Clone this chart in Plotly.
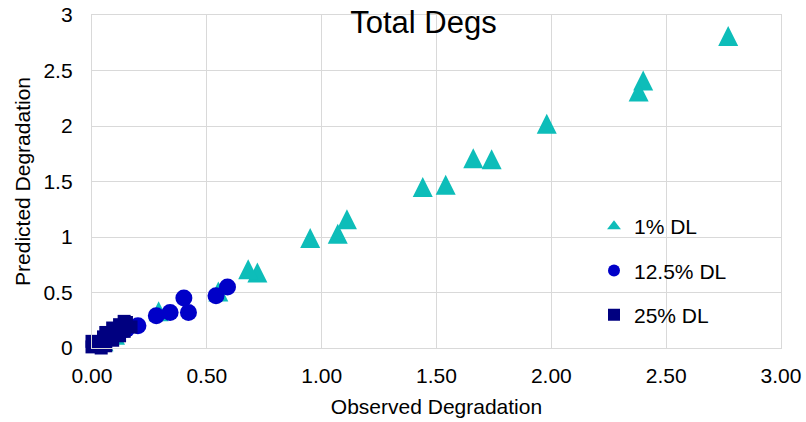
import plotly.graph_objects as go

# Observed vs predicted degradation, one series per detection-limit setting
dl1_obs = [2.77, 2.40, 2.38, 1.98, 1.74, 1.66, 1.54, 1.44, 1.11, 1.07, 0.95,
           0.72, 0.68, 0.55, 0.29, 0.10, 0.05]
dl1_pred = [2.81, 2.41, 2.31, 2.02, 1.70, 1.71, 1.47, 1.45, 1.16, 1.03, 0.99,
            0.68, 0.71, 0.51, 0.33, 0.12, 0.06]

dl12_obs = [0.59, 0.54, 0.40, 0.42, 0.34, 0.28, 0.20, 0.15, 0.08]
dl12_pred = [0.55, 0.47, 0.45, 0.32, 0.32, 0.29, 0.20, 0.17, 0.10]

dl25_obs = [0.00, 0.00, 0.04, 0.05, 0.06, 0.06, 0.09, 0.09, 0.12, 0.12,
            0.14, 0.14, 0.15, 0.17]
dl25_pred = [0.01, 0.06, 0.00, 0.10, 0.02, 0.14, 0.07, 0.18, 0.11, 0.21,
             0.15, 0.24, 0.23, 0.19]

series_names = ["1% DL", "12.5% DL", "25% DL"]
x_ticks = [0, 0.5, 1, 1.5, 2, 2.5, 3]
y_ticks = [0, 0.5, 1, 1.5, 2, 2.5, 3]

FONT = "Liberation Sans, Arial, sans-serif"
GRID = "#d9d9d9"
TEAL = "#0DBDB9"

fig = go.Figure()

# Upward triangle with equal width and height, centred on the point:
# a downward arrow pushed back by half its height and turned over.
tri_size = 20
fig.add_trace(go.Scatter(
    x=dl1_obs, y=dl1_pred, mode="markers", name=series_names[0],
    legendgroup="a", showlegend=False, cliponaxis=False,
    marker=dict(symbol="arrow-down", size=tri_size, angle=180,
                standoff=tri_size / 2, color=TEAL, line=dict(width=0)),
))
# legend key for the triangle series
fig.add_trace(go.Scatter(
    x=[None], y=[None], mode="markers", name=series_names[0],
    legendgroup="a", showlegend=True,
    marker=dict(symbol="triangle-up", size=12, color=TEAL, line=dict(width=0)),
))
fig.add_trace(go.Scatter(
    x=dl12_obs, y=dl12_pred, mode="markers", name=series_names[1],
    legendgroup="b", cliponaxis=False,
    marker=dict(symbol="circle", size=17, color="#0000C8", line=dict(width=0)),
))
fig.add_trace(go.Scatter(
    x=dl25_obs, y=dl25_pred, mode="markers", name=series_names[2],
    legendgroup="c", cliponaxis=False,
    marker=dict(symbol="square", size=13, color="#000080", line=dict(width=0)),
))

fig.update_layout(
    width=806, height=422,
    margin=dict(l=92, r=25, t=15, b=74),
    paper_bgcolor="white", plot_bgcolor="white",
    font=dict(family=FONT, size=21, color="#000000"),
    title=dict(text="Total Degs", x=423.5 / 806, xanchor="center",
               y=1 - 11 / 422, yanchor="top", yref="container",
               font=dict(size=31, color="#000000")),
    xaxis=dict(
        range=[0, 3], tickvals=x_ticks, tickformat=".2f", automargin=False,
        showgrid=True, gridcolor=GRID, gridwidth=1.3,
        showline=True, linecolor=GRID, linewidth=1.3, mirror=True,
        zeroline=False, ticks="", ticklabelstandoff=9,
        title=dict(text="Observed Degradation", standoff=12,
                   font=dict(size=21)),
    ),
    yaxis=dict(
        range=[0, 3], tickvals=y_ticks, automargin=False,
        showgrid=True, gridcolor=GRID, gridwidth=1.3,
        showline=True, linecolor=GRID, linewidth=1.3, mirror=True,
        zeroline=False, ticks="", ticklabelstandoff=14,
        title=dict(text="Predicted Degradation", standoff=7,
                   font=dict(size=21)),
    ),
    legend=dict(
        x=(594 - 92) / 689, xanchor="left",
        y=(348 - 206) / 333, yanchor="top",
        bgcolor="rgba(0,0,0,0)", borderwidth=0,
        itemsizing="constant", tracegroupgap=14,
        font=dict(size=21),
    ),
)

fig.write_html("out.html")
